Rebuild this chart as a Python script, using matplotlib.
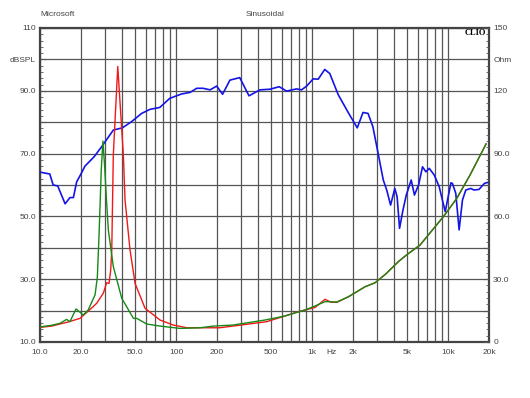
import matplotlib
matplotlib.use("Agg")
import matplotlib.pyplot as plt
import numpy as np

plt.rcParams['font.family'] = ['Liberation Sans', 'DejaVu Sans']

# SPL curve (dB)
spl_freq = [10, 11.8, 12.5, 13.5, 15.3, 16.6, 17.6, 18.6, 20, 21.4, 25, 28.4, 34.6,
            40.3, 47.2, 55.9, 64.4, 76, 90, 110, 127, 142, 158, 178, 199, 220,
            249, 294, 344, 414, 490, 574, 650, 768, 837, 913, 1020, 1110, 1240,
            1350, 1560, 1890, 2150, 2370, 2580, 2800, 3060, 3340, 3540, 3780,
            4060, 4220, 4400, 4660, 4930, 5360, 5660, 6070, 6490, 6870, 7270,
            7910, 8600, 9530, 10500, 10770, 11400, 12060, 12760, 13500, 14700,
            15520, 16900, 18500, 19500]
spl_db = [64.1, 63.5, 60, 59.7, 54, 56, 56, 61, 63.5, 66, 69, 72.2, 77.5,
          78.2, 80.2, 82.8, 84.1, 84.7, 87.6, 89, 89.5, 90.8, 90.8, 90.3, 91.5, 88.9,
          93.4, 94.2, 88.4, 90.3, 90.5, 91.3, 89.9, 90.6, 90.3, 91.5, 93.8, 93.7, 96.8,
          95.5, 88.7, 82.3, 78.2, 83.1, 82.8, 78.6, 70.1, 61.6, 58.4, 53.6,
          58.9, 56.3, 46.2, 52, 56.8, 61.6, 56.8, 60, 65.8, 64.2, 65.3,
          63.2, 59.5, 51.5, 60.7, 60.5, 57.3, 45.7, 55.2, 58.4, 58.9,
          58.4, 58.6, 60.5, 60.8]

# impedance, red (Ohm)
red_freq = [10, 12.2, 14, 16, 19.7, 24.7, 26.1, 29.2, 30.9, 32.2, 33.1, 33.7, 34.6,
            37.3, 41, 42.2, 45.9, 50, 59.2, 76.3, 95.5, 120, 209, 262, 464, 795,
            1052, 1247, 1380, 1530, 1850, 2455, 2906, 3500, 4313, 5000, 6220,
            9250, 11590, 14520, 19020]
red_ohm = [7.0, 7.6, 8.6, 9.5, 11.3, 17, 18.5, 23.3, 28.3, 28, 34.4, 44, 89.4,
           131.6, 89.4, 67.8, 44, 28, 16.1, 10.5, 8.1, 6.8, 6.8, 7.6, 9.7, 14.5,
           16.5, 20.4, 19.0, 19.0, 21.6, 26.4, 28.3, 32.6, 38.4, 41.8, 46.3,
           59.9, 68.6, 79.8, 94.6]

# impedance, green (Ohm)
grn_freq = [10, 12.2, 14, 15.7, 16.6, 18.4, 20.8, 22.6, 25.4, 26.4, 27.2, 28.2,
            29.0, 29.8, 30.8, 31.8, 34.6, 39.9, 48.6, 51.4, 60.9, 76.3, 107, 150,
            188, 262, 451, 632, 889, 1052, 1247, 1520, 1850, 2455, 2906, 3500,
            4313, 5000, 6220, 9250, 11590, 14520, 19020]
grn_ohm = [7.2, 8.0, 8.9, 10.8, 9.7, 15.8, 12.9, 15.3, 22.5, 31, 52, 82,
           96, 85, 68, 53.5, 36, 20.9, 11.3, 11.3, 8.6, 7.6, 6.5, 6.8,
           7.6, 8.1, 10.5, 12.4, 15.3, 17.2, 19.3, 19.1, 21.6, 26.4, 28.3, 32.6,
           38.4, 41.8, 46.3, 59.9, 68.6, 79.8, 94.6]

x_grid = [10, 20, 30, 40, 50, 60, 70, 80, 90, 100, 200, 300, 400, 500, 600, 700,
          800, 900, 1000, 2000, 3000, 4000, 5000, 6000, 7000, 8000, 9000, 10000, 20000]
x_labels = {10: '10.0', 20: '20.0', 50: '50.0', 100: '100', 200: '200', 500: '500',
            1000: '1k', 2000: '2k', 5000: '5k', 10000: '10k', 20000: '20k'}
left_ticks = [10, 20, 30, 40, 50, 60, 70, 80, 90, 100, 110]
left_labels = ['10.0', '', '30.0', '', '50.0', '', '70.0', '', '90.0', 'dBSPL', '110']
right_ticks = [0, 15, 30, 45, 60, 75, 90, 105, 120, 135, 150]
right_labels = ['0', '', '30.0', '', '60.0', '', '90.0', '', '120', 'Ohm', '150']

txt = '#444444'
gridc = '#555555'
fs = 6

fig = plt.figure(figsize=(5.3, 3.98), dpi=100)
ax = fig.add_axes([40/530, 56/398, 449/530, 314/398])
ax.set_xscale('log')
ax.set_xlim(10, 20000)
ax.set_ylim(10, 110)

ax.set_xticks(x_grid)
ax.set_xticklabels([x_labels.get(v, '') for v in x_grid])
ax.xaxis.set_minor_locator(matplotlib.ticker.NullLocator())
ax.set_yticks(left_ticks)
ax.set_yticklabels(left_labels)
ax.set_yticks(np.arange(10, 111, 2), minor=True)
ax.grid(True, which='major', color=gridc, lw=0.9)
ax.tick_params(axis='x', which='both', length=0, labelsize=fs, labelcolor=txt, pad=5)
ax.tick_params(axis='y', which='major', direction='in', length=4, color=gridc,
               labelsize=fs, labelcolor=txt, pad=3)
ax.tick_params(axis='y', which='minor', direction='in', length=2, color=gridc)
for s in ax.spines.values():
    s.set_color('#444444')
    s.set_linewidth(1.6)

ax.plot(spl_freq, spl_db, color='#1414e6', lw=1.2, zorder=3)

ax2 = ax.twinx()
ax2.set_ylim(0, 150)
ax2.set_yticks(right_ticks)
ax2.set_yticklabels(right_labels)
ax2.set_yticks(np.arange(0, 151, 3), minor=True)
ax2.tick_params(axis='y', which='major', direction='in', length=4, color=gridc,
                labelsize=fs, labelcolor=txt, pad=3)
ax2.tick_params(axis='y', which='minor', direction='in', length=2, color=gridc)
for s in ax2.spines.values():
    s.set_visible(False)

ax2.plot(red_freq, red_ohm, color='#f01818', lw=1.0, zorder=3)
ax2.plot(grn_freq, grn_ohm, color='#168a16', lw=1.0, zorder=4)

# unit label sits among the x tick labels
ax.annotate('Hz', xy=(1400, 0), xycoords=('data', 'axes fraction'),
            xytext=(0, -5), textcoords='offset points', ha='center', va='top',
            fontsize=fs, color=txt)
fig.text(40/530, 1 - 14/398, 'Microsoft', ha='left', va='center', fontsize=fs, color=txt)
fig.text(265/530, 1 - 14/398, 'Sinusoidal', ha='center', va='center', fontsize=fs, color=txt)
fig.text(486/530, 1 - 33/398, 'CLIO', ha='right', va='center', fontsize=fs,
         fontweight='bold', family=['Liberation Serif', 'DejaVu Serif'], color='black')

fig.savefig('out.png', dpi=100, facecolor='white')
